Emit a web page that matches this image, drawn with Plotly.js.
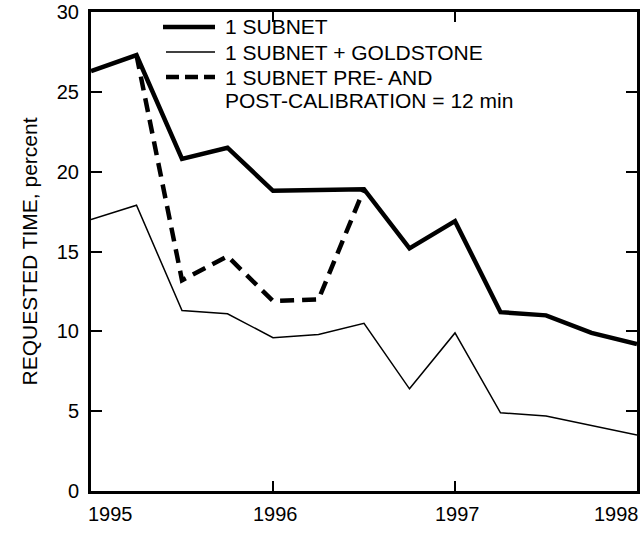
<!DOCTYPE html>
<html>
<head>
<meta charset="utf-8">
<script src="https://cdn.plot.ly/plotly-3.0.1.min.js"></script>
<style>html,body{margin:0;padding:0;background:#fff;}#chart{width:642px;height:533px;}</style>
</head>
<body>
<div id="chart"></div>
<script>
// Quarterly time points (years)
const quarters = [1995, 1995.25, 1995.5, 1995.75, 1996, 1996.25, 1996.5, 1996.75, 1997, 1997.25, 1997.5, 1997.75, 1998];
// Requested time, percent
const oneSubnet = [26.3, 27.3, 20.8, 21.5, 18.8, 18.85, 18.9, 15.2, 16.9, 11.2, 11.0, 9.9, 9.2];
const subnetGoldstone = [17.0, 17.9, 11.3, 11.1, 9.6, 9.8, 10.5, 6.4, 9.9, 4.9, 4.7, 4.1, 3.5];
const subnetPrePost = [null, 27.3, 13.2, 14.7, 11.9, 12.0, 18.9, null, null, null, null, null, null];
const seriesNames = ['1 SUBNET', '1 SUBNET + GOLDSTONE', '1 SUBNET PRE- AND', 'POST-CALIBRATION = 12 min'];
const yearTicks = [1995, 1996, 1997, 1998];
const yearLabels = ['1995', '1996', '1997', '1998'];
const yTicks = [0, 5, 10, 15, 20, 25, 30];

const font = 'Liberation Sans, Arial, Helvetica, sans-serif';
const W = 642, H = 533, M = {l: 91, r: 5, t: 12, b: 42};
const pw = W - M.l - M.r, ph = H - M.t - M.b;
const px = v => (v - M.l) / pw;       // pixel x -> paper x
const py = v => (H - M.b - v) / ph;   // pixel y -> paper y

const lineStyles = [
  {color: '#000', width: 4.5},
  {color: '#000', width: 1.5},
  {color: '#000', width: 4.5, dash: '14px,8px'}
];

const traces = [
  {x: quarters, y: oneSubnet, name: seriesNames[0], mode: 'lines', line: lineStyles[0], showlegend: false},
  {x: quarters, y: subnetGoldstone, name: seriesNames[1], mode: 'lines', line: lineStyles[1], showlegend: false},
  {x: quarters, y: subnetPrePost, name: seriesNames[2] + ' ' + seriesNames[3], mode: 'lines', connectgaps: false, line: lineStyles[2], showlegend: false}
];

// x-axis year labels
const annotations = yearTicks.map((v, i) => ({
  x: v, xref: 'x', y: 0, yref: 'paper', yanchor: 'top', yshift: -10,
  xanchor: i === 0 ? 'left' : (i === yearTicks.length - 1 ? 'right' : 'center'),
  xshift: i === 0 ? -5 : (i === yearTicks.length - 1 ? 4 : 2),
  text: yearLabels[i], showarrow: false,
  font: {family: font, size: 20, color: '#000'}
}));

// legend (key lines + text)
const legendRows = [27, 52, 77, 101];
seriesNames.forEach((t, i) => {
  annotations.push({
    x: px(223), xref: 'paper', y: py(legendRows[i]), yref: 'paper',
    xanchor: 'left', yanchor: 'middle', showarrow: false, text: t,
    font: {family: font, size: 21, color: '#000'}
  });
});
const shapes = [0, 1, 2].map(i => ({
  type: 'line', xref: 'paper', yref: 'paper',
  x0: px(i === 0 ? 163 : 166), x1: px(215), y0: py(legendRows[i]), y1: py(legendRows[i]),
  line: i === 2 ? {color: '#000', width: 4.5, dash: '13px,6px'} : lineStyles[i]
}));

const layout = {
  width: W, height: H,
  margin: M,
  paper_bgcolor: '#fff', plot_bgcolor: '#fff',
  font: {family: font, color: '#000'},
  showlegend: false,
  xaxis: {
    range: [1995, 1998], tickvals: yearTicks, showticklabels: false,
    ticks: 'inside', ticklen: 10, tickwidth: 2, tickcolor: '#000',
    showline: true, linecolor: '#000', linewidth: 3, mirror: 'ticks',
    showgrid: false, zeroline: false
  },
  yaxis: {
    range: [0, 30], tickvals: yTicks, ticktext: yTicks.map(String),
    ticks: 'inside', ticklen: 11, tickwidth: 2, tickcolor: '#000',
    tickfont: {family: font, size: 20, color: '#000'},
    ticklabelstandoff: 5,
    showline: true, linecolor: '#000', linewidth: 3, mirror: 'ticks',
    showgrid: false, zeroline: false,
    title: {text: 'REQUESTED TIME, percent', font: {family: font, size: 21, color: '#000'}, standoff: 14}
  },
  annotations: annotations,
  shapes: shapes
};

Plotly.newPlot('chart', traces, layout, {displayModeBar: false, staticPlot: true});
</script>
</body>
</html>
